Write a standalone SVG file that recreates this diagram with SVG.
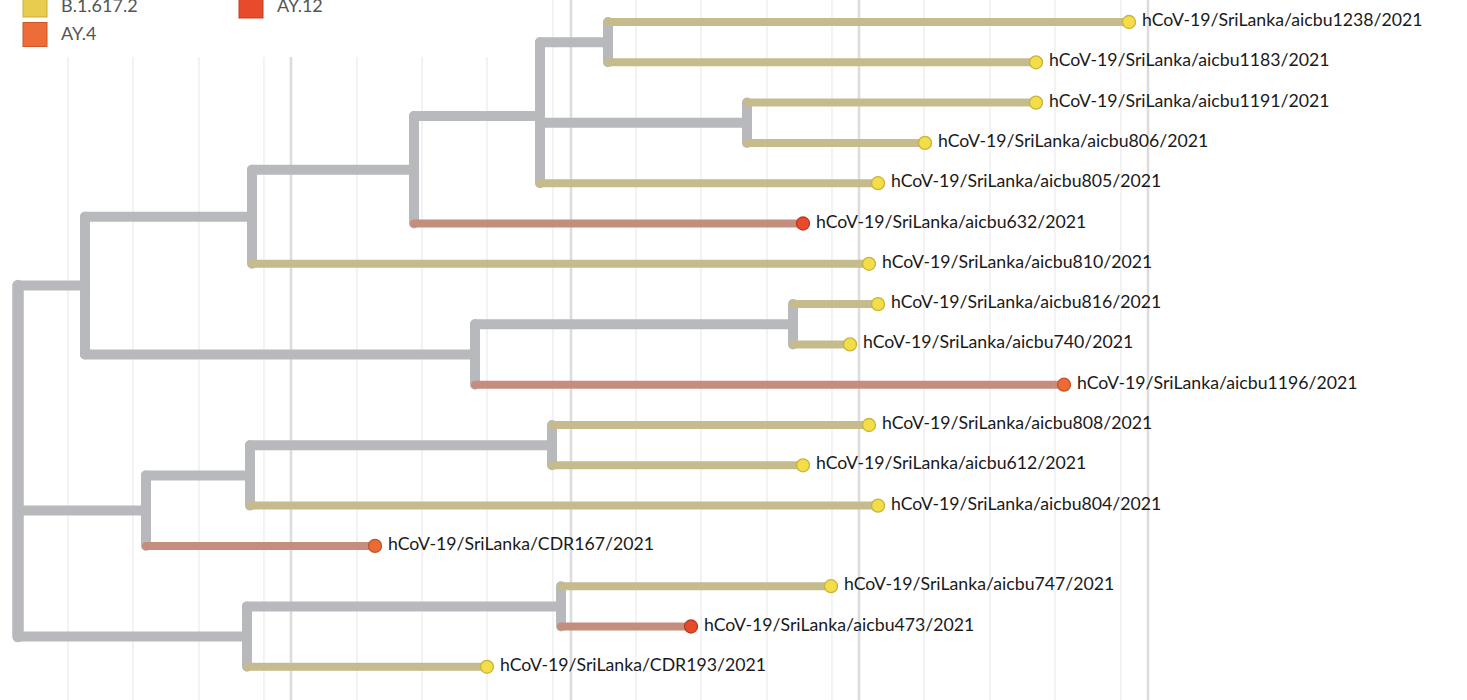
<svg xmlns="http://www.w3.org/2000/svg" width="1467" height="700" viewBox="0 0 1467 700">
<style>
.gmin{stroke:#ececec;stroke-width:1.3}
.gmaj{stroke:#dcdcdc;stroke-width:2.5}
.int{stroke:#b7b9bc;stroke-width:10;stroke-linecap:round;fill:none}
.tip{stroke-width:8;stroke-linecap:round;fill:none}
.tan{stroke:#c5bb8c}
.brn{stroke:#c58d7e}
.dy{fill:#f3dd48;stroke:#c9b33a;stroke-width:1.3}
.dr{fill:#e84a2c;stroke:#b83a22;stroke-width:1.3}
.do{fill:#ec6a36;stroke:#c0552a;stroke-width:1.3}
.lbl{font-family:Lato,"Liberation Sans",sans-serif;font-size:17.7px;fill:#1a1a1a}
.leg{font-family:Lato,"Liberation Sans",sans-serif;font-size:18px;fill:#555555}
</style>
<rect width="1467" height="700" fill="#ffffff"/>
<g id="grid">
<line class="gmin" x1="68" y1="57" x2="68" y2="700"/>
<line class="gmin" x1="133" y1="57" x2="133" y2="700"/>
<line class="gmin" x1="199" y1="57" x2="199" y2="700"/>
<line class="gmin" x1="264" y1="57" x2="264" y2="700"/>
<line class="gmaj" x1="291" y1="57" x2="291" y2="700"/>
<line class="gmin" x1="357" y1="57" x2="357" y2="700"/>
<line class="gmin" x1="422" y1="57" x2="422" y2="700"/>
<line class="gmin" x1="487" y1="57" x2="487" y2="700"/>
<line class="gmin" x1="553" y1="0" x2="553" y2="700"/>
<line class="gmaj" x1="571" y1="0" x2="571" y2="700"/>
<line class="gmin" x1="636" y1="0" x2="636" y2="700"/>
<line class="gmin" x1="701" y1="0" x2="701" y2="700"/>
<line class="gmin" x1="767" y1="0" x2="767" y2="700"/>
<line class="gmin" x1="832" y1="0" x2="832" y2="700"/>
<line class="gmaj" x1="859" y1="0" x2="859" y2="700"/>
<line class="gmin" x1="924" y1="0" x2="924" y2="700"/>
<line class="gmin" x1="990" y1="0" x2="990" y2="700"/>
<line class="gmin" x1="1055" y1="0" x2="1055" y2="700"/>
<line class="gmin" x1="1121" y1="0" x2="1121" y2="700"/>
<line class="gmaj" x1="1148" y1="0" x2="1148" y2="700"/>
</g>
<g id="legend">
<rect x="23" y="-7" width="24" height="24" fill="#e8cc4e" stroke="#c9ad3a" stroke-width="1"/>
<text class="leg" x="61" y="12">B.1.617.2</text>
<rect x="23" y="22.5" width="24" height="24" fill="#ee6c38" stroke="#cc5628" stroke-width="1"/>
<text class="leg" x="61" y="40">AY.4</text>
<rect x="239" y="-6" width="24" height="24" fill="#e84a2c" stroke="#c43c22" stroke-width="1"/>
<text class="leg" x="277" y="12">AY.12</text>
</g>
<g id="connectors">
<path class="int" d="M18,285.6V636.6" style="stroke-width:11.5"/>
<path class="int" d="M85,216.8V354.5 M252,169.7V263.8 M414,116V223.5 M540,42.2V183.2 M608,22V62.3 M747,102.6V142.9 M475,324.2V384.7 M793,304.1V344.4 M146,475.4V545.9 M250,445.2V505.6 M552,425V465.3 M247,606.4V666.8 M561,586.2V626.5"/>
<path class="int" d="M18,285.6H85 M18,510.6H146 M18,636.6H247 M85,216.8H252 M85,354.5H475 M252,169.7H414 M414,116H540 M540,42.2H608 M540,122.8H747 M475,324.2H793 M146,475.4H250 M250,445.2H552 M247,606.4H561"/>
<path class="tip tan" d="M608,22H1129 M608,62.3H1036 M747,102.6H1036 M747,142.9H925 M540,183.2H878 M252,263.8H869 M793,304.1H878 M793,344.4H850 M552,425H869 M552,465.3H803 M250,505.6H878 M561,586.2H831 M247,666.8H487"/>
<path class="tip brn" d="M414,223.5H803 M475,384.7H1064 M146,545.9H375 M561,626.5H691"/>
</g>
<g id="tip-aicbu1238"><circle class="dy" cx="1129" cy="22" r="6.5"/><text class="lbl" x="1142" y="26">hCoV-19/SriLanka/aicbu1238/2021</text></g>
<g id="tip-aicbu1183"><circle class="dy" cx="1036" cy="62.3" r="6.5"/><text class="lbl" x="1049" y="66.3">hCoV-19/SriLanka/aicbu1183/2021</text></g>
<g id="tip-aicbu1191"><circle class="dy" cx="1036" cy="102.6" r="6.5"/><text class="lbl" x="1049" y="106.6">hCoV-19/SriLanka/aicbu1191/2021</text></g>
<g id="tip-aicbu806"><circle class="dy" cx="925" cy="142.9" r="6.5"/><text class="lbl" x="938" y="146.9">hCoV-19/SriLanka/aicbu806/2021</text></g>
<g id="tip-aicbu805"><circle class="dy" cx="878" cy="183.2" r="6.5"/><text class="lbl" x="891" y="187.2">hCoV-19/SriLanka/aicbu805/2021</text></g>
<g id="tip-aicbu632"><circle class="dr" cx="803" cy="223.5" r="6.5"/><text class="lbl" x="816" y="227.5">hCoV-19/SriLanka/aicbu632/2021</text></g>
<g id="tip-aicbu810"><circle class="dy" cx="869" cy="263.8" r="6.5"/><text class="lbl" x="882" y="267.8">hCoV-19/SriLanka/aicbu810/2021</text></g>
<g id="tip-aicbu816"><circle class="dy" cx="878" cy="304.1" r="6.5"/><text class="lbl" x="891" y="308.1">hCoV-19/SriLanka/aicbu816/2021</text></g>
<g id="tip-aicbu740"><circle class="dy" cx="850" cy="344.4" r="6.5"/><text class="lbl" x="863" y="348.4">hCoV-19/SriLanka/aicbu740/2021</text></g>
<g id="tip-aicbu1196"><circle class="do" cx="1064" cy="384.7" r="6.5"/><text class="lbl" x="1077" y="388.7">hCoV-19/SriLanka/aicbu1196/2021</text></g>
<g id="tip-aicbu808"><circle class="dy" cx="869" cy="425" r="6.5"/><text class="lbl" x="882" y="429">hCoV-19/SriLanka/aicbu808/2021</text></g>
<g id="tip-aicbu612"><circle class="dy" cx="803" cy="465.3" r="6.5"/><text class="lbl" x="816" y="469.3">hCoV-19/SriLanka/aicbu612/2021</text></g>
<g id="tip-aicbu804"><circle class="dy" cx="878" cy="505.6" r="6.5"/><text class="lbl" x="891" y="509.6">hCoV-19/SriLanka/aicbu804/2021</text></g>
<g id="tip-CDR167"><circle class="do" cx="375" cy="545.9" r="6.5"/><text class="lbl" x="388" y="549.9">hCoV-19/SriLanka/CDR167/2021</text></g>
<g id="tip-aicbu747"><circle class="dy" cx="831" cy="586.2" r="6.5"/><text class="lbl" x="844" y="590.2">hCoV-19/SriLanka/aicbu747/2021</text></g>
<g id="tip-aicbu473"><circle class="dr" cx="691" cy="626.5" r="6.5"/><text class="lbl" x="704" y="630.5">hCoV-19/SriLanka/aicbu473/2021</text></g>
<g id="tip-CDR193"><circle class="dy" cx="487" cy="666.8" r="6.5"/><text class="lbl" x="500" y="670.8">hCoV-19/SriLanka/CDR193/2021</text></g>
</svg>
